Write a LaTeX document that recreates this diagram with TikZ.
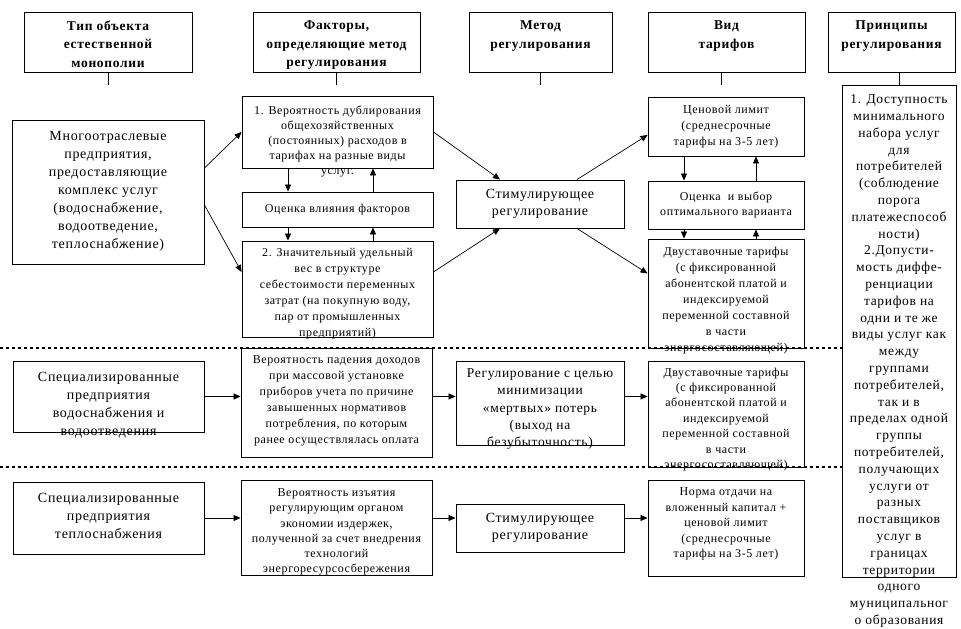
\documentclass[tikz,border=0pt]{standalone}
\usepackage{fontspec}
\setmainfont{Liberation Serif}[LetterSpace=5]
\usetikzlibrary{arrows.meta}
\newcommand\fsz[2]{\fontsize{#1}{#2}\selectfont}
\tikzset{
  x=1pt, y=-1pt,
  box/.style={draw, line width=0.9pt, inner sep=0pt},
  txt/.style={inner sep=0pt, align=center, anchor=north},
  ctxt/.style={inner sep=0pt, align=center},
  hdr/.style={txt, font=\bfseries\fsz{13.5}{18.5}},
  big/.style={font=\fsz{14}{18}},
  sml/.style={font=\fsz{12}{#1}},
  arr/.style={-{Triangle[length=7pt,width=6pt]}, line width=0.7pt},
  conn/.style={line width=0.9pt},
  dotline/.style={line width=2.6pt, dash pattern=on 3pt off 3pt}
}
\begin{document}
\begin{tikzpicture}
\path[fill=white] (0,0) rectangle (961,629);
\useasboundingbox (0,0) rectangle (961,629);

% headers
\node[box, minimum width=168pt, minimum height=60pt] (H1) at (108,42) {};
\node[box, minimum width=167pt, minimum height=60pt] (H2) at (336.5,42) {};
\node[box, minimum width=143pt, minimum height=60pt] (H3) at (540.5,42) {};
\node[box, minimum width=157pt, minimum height=60pt] (H4) at (726.5,42) {};
\node[box, minimum width=127pt, minimum height=60pt] (H5) at (891.5,42) {};
\node[hdr] at ([yshift=-9pt]H1.north) {Тип объекта\\естественной\\монополии};
\node[hdr] at ([yshift=-9pt]H2.north) {Факторы,\\определяющие метод\\регулирования};
\node[hdr] at ([yshift=-9pt]H3.north) {Метод\\регулирования};
\node[hdr] at ([yshift=-9pt]H4.north) {Вид\\тарифов};
\node[hdr] at ([yshift=-9pt]H5.north) {Принципы\\регулирования};

% principles box
\node[box, minimum width=114pt, minimum height=492pt] (P) at (899,331) {};
\node[txt, font=\fsz{13.5}{16.8}] at ([yshift=-10pt]P.north) {1. Доступность\\минимального\\набора услуг\\для\\потребителей\\(соблюдение\\порога\\платежеспособ\\ности)\\2.Допусти-\\мость диффе-\\ренциации\\тарифов на\\одни и те же\\виды услуг как\\между\\группами\\потребителей,\\так и в\\пределах одной\\группы\\потребителей,\\получающих\\услуги от\\разных\\поставщиков\\услуг в\\границах\\территории\\одного\\муниципальног\\о образования};

\coordinate (c1) at (108,85);
\coordinate (c2) at (336.5,85);
\coordinate (c3) at (540.5,85);
\coordinate (c4) at (721,85);
\draw[conn] (H1.south) -- (c1);
\draw[conn] (H2.south) -- (c2);
\draw[conn] (H3.south) -- (c3);
\draw[conn] (H4.south -| c4) -- (c4);
\draw[conn] (P.north) -- (P.north |- H5.south);

% band 1
\node[box, minimum width=192pt, minimum height=144pt] (L) at (108,192) {};
\node[txt, big] at ([yshift=-12pt]L.north) {Многоотраслевые\\предприятия,\\предоставляющие\\комплекс услуг\\(водоснабжение,\\водоотведение,\\теплоснабжение)};

\node[box, minimum width=191pt, minimum height=72pt] (F1) at (337.5,132) {};
\node[txt, sml=15] at ([yshift=-10pt]F1.north) {1. Вероятность дублирования\\общехозяйственных\\(постоянных) расходов в\\тарифах на разные виды\\услуг.};
\node[box, minimum width=191pt, minimum height=35pt] (F2) at (337.5,209.5) {};
\node[ctxt, sml=15] at (F2) {Оценка влияния факторов};
\node[box, minimum width=191pt, minimum height=96pt] (F3) at (337.5,289) {};
\node[txt, sml=16] at ([yshift=-8pt]F3.north) {2. Значительный удельный\\вес в структуре\\себестоимости переменных\\затрат (на покупную воду,\\пар от промышленных\\предприятий)};

\node[box, minimum width=168pt, minimum height=48pt] (S1) at (540,204) {};
\node[ctxt, font=\fsz{14}{17}] at (S1) {Стимулирующее\\регулирование};

\node[box, minimum width=156pt, minimum height=59pt] (T1) at (726,126.5) {};
\node[txt, sml=16] at ([yshift=-9pt]T1.north) {Ценовой лимит\\(среднесрочные\\тарифы на 3-5 лет)};
\node[box, minimum width=156pt, minimum height=48pt] (T2) at (726,205) {};
\node[ctxt, sml=15] at (T2) {Оценка\ \ и выбор\\оптимального варианта};
\node[box, minimum width=156pt, minimum height=109pt] (T3) at (726,293.5) {};
\node[txt, sml=16] at ([yshift=-8pt]T3.north) {Двуставочные тарифы\\(с фиксированной\\абонентской платой и\\индексируемой\\переменной составной\\в части\\энергосоставляющей)};

\draw[arr] ([yshift=24pt]L.east) -- (F1.west);
\draw[arr] ([yshift=-13pt]L.east) -- ([yshift=17pt]F3.west);
\draw[arr] ([xshift=-49.5pt]F1.south) -- ([xshift=-49.5pt]F2.north);
\draw[arr] ([xshift=35.5pt]F2.north) -- ([xshift=35.5pt]F1.south);
\draw[arr] ([xshift=-49.5pt]F2.south) -- ([xshift=-49.5pt]F3.north);
\draw[arr] ([xshift=35.5pt]F3.north) -- ([xshift=35.5pt]F2.south);
\draw[arr] (F1.east) -- ([xshift=-40pt]S1.north);
\draw[arr] ([yshift=17pt]F3.east) -- ([xshift=-40pt]S1.south);
\draw[arr] ([xshift=37pt]S1.north) -- ([yshift=-8.5pt]T1.west);
\draw[arr] ([xshift=37pt]S1.south) -- ([yshift=20pt]T3.west);
\draw[arr] ([xshift=-42pt]T1.south) -- ([xshift=-42pt]T2.north);
\draw[arr] ([xshift=30pt]T2.north) -- ([xshift=30pt]T1.south);
\draw[arr] ([xshift=-42pt]T2.south) -- ([xshift=-42pt]T3.north);
\draw[arr] ([xshift=30pt]T3.north) -- ([xshift=30pt]T2.south);

% band 2
\node[box, minimum width=191pt, minimum height=71pt] (W) at (108.5,396.5) {};
\node[txt, big] at ([yshift=-11pt]W.north) {Специализированные\\предприятия\\водоснабжения и\\водоотведения};
\node[box, minimum width=191pt, minimum height=109pt] (F4) at (336.5,402.5) {};
\node[txt, sml=16] at ([yshift=-8pt]F4.north) {Вероятность падения доходов\\при массовой установке\\приборов учета по причине\\завышенных нормативов\\потребления, по которым\\ранее осуществлялась оплата};
\node[box, minimum width=168pt, minimum height=84pt] (M2) at (540,403) {};
\node[txt, font=\fsz{13.5}{17.3}] at ([yshift=-8pt]M2.north) {Регулирование с целью\\минимизации\\«мертвых» потерь\\(выход на\\безубыточность)};
\node[box, minimum width=156pt, minimum height=106pt] (T4) at (726,414) {};
\node[txt, sml=15.4] at ([yshift=-7pt]T4.north) {Двуставочные тарифы\\(с фиксированной\\абонентской платой и\\индексируемой\\переменной составной\\в части\\энергосоставляющей)};
\draw[arr] (W.east) -- (W.east -| F4.west);
\draw[arr] (F4.east |- W.east) -- (M2.west |- W.east);
\draw[arr] (M2.east |- W.east) -- (T4.west |- W.east);

% band 3
\node[box, minimum width=191pt, minimum height=72pt] (HS) at (108.5,518) {};
\node[txt, big] at ([yshift=-11pt]HS.north) {Специализированные\\предприятия\\теплоснабжения};
\node[box, minimum width=191pt, minimum height=95pt] (F5) at (336.5,527.5) {};
\node[txt, sml=15.2] at ([yshift=-9pt]F5.north) {Вероятность изъятия\\регулирующим органом\\экономии издержек,\\полученной за счет внедрения\\технологий\\энергоресурсосбережения};
\node[box, minimum width=168pt, minimum height=48pt] (M3) at (540,528) {};
\node[ctxt, font=\fsz{14}{17}] at (M3) {Стимулирующее\\регулирование};
\node[box, minimum width=156pt, minimum height=96pt] (T5) at (726,528) {};
\node[txt, sml=15.5] at ([yshift=-8pt]T5.north) {Норма отдачи на\\вложенный капитал +\\ценовой лимит\\(среднесрочные\\тарифы на 3-5 лет)};
\draw[arr] (HS.east) -- (HS.east -| F5.west);
\draw[arr] (F5.east |- HS.east) -- (M3.west |- HS.east);
\draw[arr] (M3.east |- HS.east) -- (T5.west |- HS.east);

% dotted separators
\coordinate (d1) at (0,348);
\coordinate (d2) at (0,467);
\draw[dotline] (d1) -- (d1 -| P.west);
\draw[dotline] (d2) -- (d2 -| P.west);
\end{tikzpicture}
\end{document}
